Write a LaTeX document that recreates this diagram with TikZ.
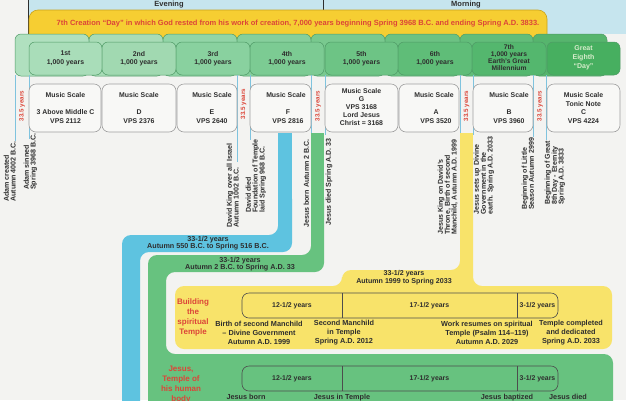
\documentclass[tikz,border=0pt]{standalone}
\usepackage{fontspec}
\setmainfont{Liberation Sans}
\definecolor{bg}{HTML}{F3F3F1}
\definecolor{sky}{HTML}{C6E5EE}
\definecolor{gold}{HTML}{F6CE32}
\definecolor{goldline}{HTML}{C9A21A}
\definecolor{cRed}{HTML}{DC4538}
\definecolor{txt}{HTML}{2E2E2E}
\definecolor{g1}{HTML}{A9DDB9}
\definecolor{g2}{HTML}{A1D9B1}
\definecolor{g3}{HTML}{89D19F}
\definecolor{g4}{HTML}{7CCB93}
\definecolor{g5}{HTML}{6DC485}
\definecolor{g6}{HTML}{5FBD78}
\definecolor{g7}{HTML}{54B76E}
\definecolor{g8}{HTML}{47AF60}
\definecolor{tabline}{HTML}{4F9A66}
\definecolor{boxw}{HTML}{F8F8F6}
\definecolor{lineblue}{HTML}{7FC3DE}
\definecolor{cBlue}{HTML}{5EC3E0}
\definecolor{cGreen}{HTML}{67C27F}
\definecolor{cYellow}{HTML}{F8E36A}
\definecolor{pale}{HTML}{D6ECCB}
\tikzset{
  lbl/.style={font=\bfseries\fontsize{7.2}{7.2}\selectfont, text=txt, align=center, inner sep=0pt},
  captxt/.style={font=\bfseries\fontsize{7.3}{9}\selectfont, text=txt, align=center, inner sep=0pt},
  seg/.style={font=\bfseries\fontsize{6.9}{7}\selectfont, text=txt, align=center, inner sep=0pt},
  tablbl/.style={font=\bfseries\fontsize{6.9}{8.5}\selectfont, text=txt, align=center, inner sep=0pt},
  muslbl/.style={font=\bfseries\fontsize{6.9}{9}\selectfont, text=txt, align=center, inner sep=0pt},
  rlab/.style={rotate=90, anchor=north west, align=left, inner sep=0pt, font=\bfseries\fontsize{7.1}{6.9}\selectfont, text=txt},
  redlab/.style={rotate=90, font=\bfseries\fontsize{6.2}{6.2}\selectfont, text=cRed, inner sep=0pt},
  redtitle/.style={font=\bfseries\fontsize{8}{9.8}\selectfont, text=cRed, align=center, inner sep=0pt},
  backtab/.style={draw=tabline, line width=0.5pt, rounded corners=6},
  fronttab/.style={draw=tabline, line width=0.5pt, rounded corners=6},
  musbox/.style={fill=boxw, draw=gray!75, line width=0.6pt, rounded corners=7},
  vline/.style={draw=lineblue, line width=0.6pt},
  tlbox/.style={draw=txt!85, line width=0.6pt, rounded corners=7},
  tldiv/.style={draw=txt!85, line width=0.6pt}
}
\begin{document}
\begin{tikzpicture}[x=1pt,y=-1pt]
\useasboundingbox (0,0) rectangle (626,400);
\fill[bg] (0,0) rectangle (626,400);
% top evening / morning
\fill[sky] (28,-5) rectangle (640,34);
\draw[txt, line width=0.8pt] (28,-5) -- (28,34);
\draw[txt, line width=0.8pt] (323,-5) -- (323,12);
\node[lbl, font=\bfseries\fontsize{7.5}{8}\selectfont] (eve) at (169,4.5) {Evening};
\node[lbl, font=\bfseries\fontsize{7.5}{8}\selectfont] (morn) at (466,4.5) {Morning};
% seventh creation day
\path[fill=gold, draw=goldline, line width=0.6pt, rounded corners=9] (29,10) rectangle (547,44);
\node[lbl, text=cRed, font=\bfseries\fontsize{7.5}{8}\selectfont] (rest) at (298,24) {7th Creation “Day” in which God rested from his work of creation, 7,000 years beginning Spring 3968 B.C. and ending Spring A.D. 3833.};
% back tabs
\foreach \a/\b/\c in {15/89/g1, 89/163/g2, 163/237/g3, 237/311/g4, 311/385/g5, 385/460/g6, 460/533/g7, 533/607/g8}
  \path[backtab, fill=\c!92!white] (\a,34) rectangle (\b,76);
% front tabs
\foreach \a/\b/\c in {29/102/g1, 102/176/g2, 176/250/g3, 250/324/g4, 325/398/g5, 398/472/g6, 472/546/g7, 547/620/g8}
  \path[fronttab, fill=\c] (\a,42) rectangle (\b,75);
\node[tablbl] (d1) at (65.5,58.5) {1st\\1,000 years};
\node[tablbl] (d2) at (139,58.5) {2nd\\1,000 years};
\node[tablbl] (d3) at (213,58.5) {3rd\\1,000 years};
\node[tablbl] (d4) at (287,58.5) {4th\\1,000 years};
\node[tablbl] (d5) at (361.5,58.5) {5th\\1,000 years};
\node[tablbl] (d6) at (435,58.5) {6th\\1,000 years};
\node[tablbl, font=\bfseries\fontsize{6.7}{7}\selectfont] (d7) at (509,58) {7th\\1,000 years\\Earth's Great\\Millennium};
\node[tablbl, text=pale, font=\bfseries\fontsize{7}{8.8}\selectfont] (d8) at (583.5,57.5) {Great\\Eighth\\“Day”};
% thin blue marker lines
\foreach \x/\e in {15/141, 29/139, 237/162, 250/140, 311/135, 325/135, 460/135, 473/135, 533/137, 546/140}
  \draw[vline] (\x,75) -- (\x,\e);
% music scale boxes
\foreach \a/\b in {29/101, 102/176, 177/237, 250/311, 325/398, 399/459, 473/533, 547/620}
  \path[musbox] (\a,84) rectangle (\b,132);
\node[muslbl] (m1a) at (65.5,95) {Music Scale};
\node[muslbl] (m1b) at (65.5,116.5) {3 Above Middle C\\VPS 2112};
\node[muslbl] (m2a) at (139,95) {Music Scale};
\node[muslbl] (m2b) at (139,116.5) {D\\VPS 2376};
\node[muslbl] (m3a) at (212,95) {Music Scale};
\node[muslbl] (m3b) at (212,116.5) {E\\VPS 2640};
\node[muslbl] (m4a) at (286,95) {Music Scale};
\node[muslbl] (m4b) at (288,116.5) {F\\VPS 2816};
\node[muslbl, font=\bfseries\fontsize{6.9}{8}\selectfont] (m5) at (361.5,107) {Music Scale\\G\\VPS 3168\\Lord Jesus\\Christ = 3168};
\node[muslbl] (m6a) at (434,95) {Music Scale};
\node[muslbl] (m6b) at (436,116.5) {A\\VPS 3520};
\node[muslbl] (m7a) at (509,95) {Music Scale};
\node[muslbl] (m7b) at (509,116.5) {B\\VPS 3960};
\node[muslbl, font=\bfseries\fontsize{6.9}{8.7}\selectfont] (m8) at (583.5,108) {Music Scale\\Tonic Note\\C\\VPS 4224};
% 33.5 years labels
\node[redlab] (y1) at (22,106) {33.5 years};
\node[redlab] (y2) at (243.5,104) {33.5 years};
\node[redlab] (y3) at (318,106) {33.5 years};
\node[redlab] (y4) at (466.5,106) {33.5 years};
\node[redlab] (y5) at (540,106) {33.5 years};
% blue band
\fill[cBlue] (278,133) rectangle (292,200);
\fill[cBlue, rounded corners=9] (278,190) -- (278,235) -- (122,235) -- (122,420) -- (140,420) -- (140,252) -- (292,252) -- (292,190) -- cycle;
% green band and panel
\fill[cGreen] (311,133) rectangle (324,200);
\fill[cGreen, rounded corners=9] (311,190) -- (311,255) -- (148,255) -- (148,420) -- (613,420) -- (613,354) -- (166,354) -- (166,272) -- (324,272) -- (324,190) -- cycle;
% yellow band and panel
\fill[cYellow] (460,133) rectangle (473,200);
\fill[cYellow, rounded corners=9] (460,190) -- (460,270) -- (342,270) -- (342,286) -- (175,286) -- (175,349) -- (612,349) -- (612,286) -- (473,286) -- (473,190) -- cycle;
% band texts
\node[lbl] (bb) at (208,243.5) {33-1/2 years\\Autumn 550 B.C. to Spring 516 B.C.};
\node[lbl] (gb) at (240,264.5) {33-1/2 years\\Autumn 2 B.C. to Spring A.D. 33};
\node[lbl, font=\bfseries\fontsize{7.1}{6.6}\selectfont] (yb) at (404,277.5) {33-1/2 years\\Autumn 1999 to Spring 2033};
% rotated event labels
\node[rlab] (e1) at (3.5,202) {Adam created\\Autumn 4002 B.C.};
\node[rlab] (e2) at (23.5,190) {Adam sinned\\Spring 3968 B.C.};
\node[rlab] (e3) at (226.5,228) {David King over all Israel\\Autumn 1002 B.C.};
\node[rlab] (e4) at (245.5,213) {David died\\Foundation of Temple\\laid Spring 968 B.C.};
\node[rlab] (e5) at (303.5,228) {Jesus born Autumn 2 B.C.};
\node[rlab] (e6) at (325.5,226) {Jesus died Spring A.D. 33};
\node[rlab] (e7) at (437.5,235) {Jesus King on David's\\Throne, Birth of second\\Manchild, Autumn A.D. 1999};
\node[rlab] (e8) at (473.5,215) {Jesus sets up Divine\\Government in the\\earth. Spring A.D. 2033};
\node[rlab] (e9) at (521.5,210) {Beginning of Little\\Season Autumn 2999};
\node[rlab] (e10) at (544.5,205) {Beginning of Great\\8th Day - Eternity\\Spring A.D. 3833};
% spiritual temple panel
\node[redtitle] (bst) at (193,317.5) {Building\\the\\spiritual\\Temple};
\path[tlbox] (242,293) rectangle (558,318);
\draw[tldiv] (342,293) -- (342,318);
\draw[tldiv] (517,293) -- (517,318);
\node[seg] (s1) at (292,305.5) {12-1/2 years};
\node[seg] (s2) at (429.5,305.5) {17-1/2 years};
\node[seg] (s3) at (537.5,305.5) {3-1/2 years};
\node[captxt] (c1) at (259,333) {Birth of second Manchild\\– Divine Government\\Autumn A.D. 1999};
\node[captxt] (c2) at (344,333) {Second Manchild\\in Temple\\Spring A.D. 2012};
\node[captxt] (c3) at (487,333) {Work resumes on spiritual\\Temple (Psalm 114–119)\\Autumn A.D. 2029};
\node[captxt] (c4) at (571,333) {Temple completed\\and dedicated\\Spring A.D. 2033};
% human temple panel
\node[redtitle, anchor=north] (jt) at (181,366) {Jesus,\\Temple of\\his human\\body};
\path[tlbox] (242,366) rectangle (558,391);
\draw[tldiv] (342,366) -- (342,391);
\draw[tldiv] (517,366) -- (517,391);
\node[seg] (h1) at (292,378.5) {12-1/2 years};
\node[seg] (h2) at (429.5,378.5) {17-1/2 years};
\node[seg] (h3) at (537.5,378.5) {3-1/2 years};
\node[captxt, anchor=north] (j1) at (246,394) {Jesus born};
\node[captxt, anchor=north] (j2) at (342,394) {Jesus in Temple};
\node[captxt, anchor=north] (j3) at (507,394) {Jesus baptized};
\node[captxt, anchor=north] (j4) at (568,394) {Jesus died};
\end{tikzpicture}
\end{document}
